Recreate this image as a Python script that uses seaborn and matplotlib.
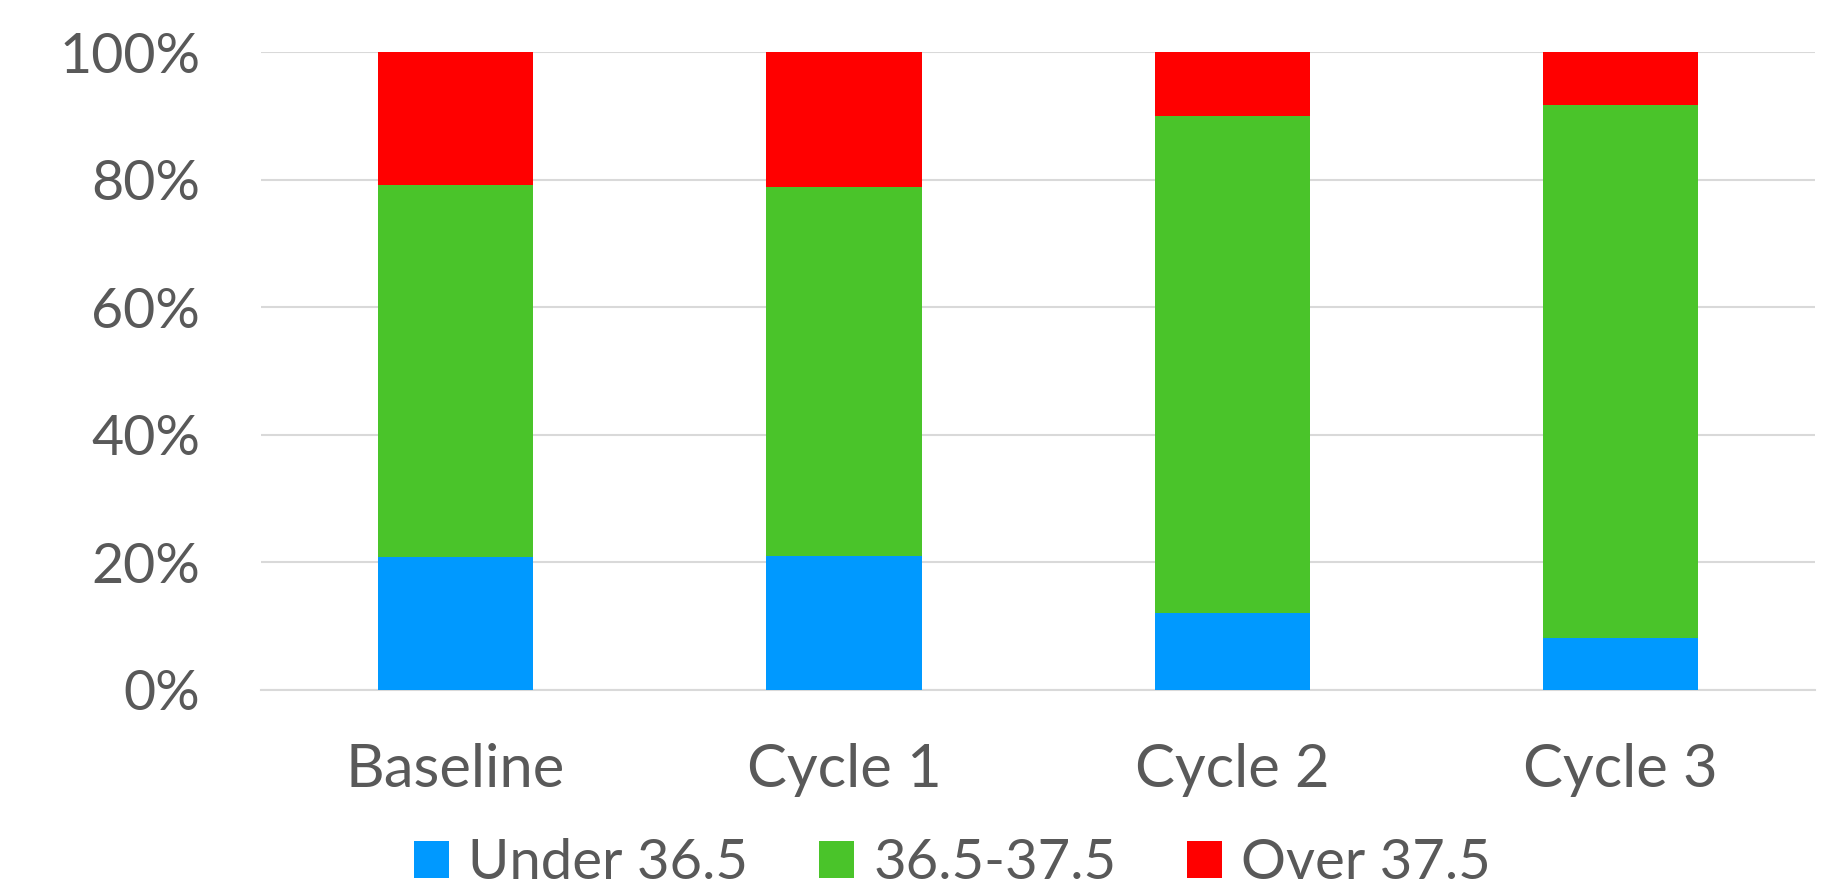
import numpy as np
import pandas as pd
import seaborn as sns
import matplotlib.pyplot as plt
from matplotlib.patches import Patch
from matplotlib.ticker import PercentFormatter

sns.set_style("white")
plt.rcParams['font.family'] = ['Lato', 'DejaVu Sans']

categories = ["Baseline", "Cycle 1", "Cycle 2", "Cycle 3"]
under = [20.8, 21.0, 12.0, 8.2]
normal = [58.4, 57.9, 78.0, 83.5]
over = [20.8, 21.1, 10.0, 8.3]

series_names = ["Under 36.5", "36.5-37.5", "Over 37.5"]
colors = ["#0099FF", "#4AC42A", "#FF0000"]
textColor = "#595959"

df = pd.DataFrame({"category": categories, "under": under, "normal": normal, "over": over})
df["cumNormal"] = df["under"] + df["normal"]
df["cumOver"] = df["cumNormal"] + df["over"]

fig = plt.figure(figsize=(18.21, 8.94), dpi=100)
ax = fig.add_axes([0.1435, 0.2282, 0.8532, 0.7133])

# stacked look: draw tallest cumulative first, then cover with lower ones
for col, c in zip(["cumOver", "cumNormal", "under"], colors[::-1]):
    sns.barplot(data=df, x="category", y=col, color=c, saturation=1, width=0.4,
                linewidth=0, ax=ax, zorder=3)

ax.set_ylim(0, 100)
ax.set_xlim(-0.5, 3.5)
ax.set_yticks(np.arange(0, 101, 20))
ax.yaxis.set_major_formatter(PercentFormatter(decimals=0))
ax.grid(axis="y", color="#D9D9D9", linewidth=1.5, zorder=0)
ax.set_axisbelow(True)
for s in ["top", "right", "left"]:
    ax.spines[s].set_visible(False)
ax.spines["bottom"].set_color("#D9D9D9")
ax.spines["bottom"].set_linewidth(1.5)
ax.set_xlabel("")
ax.set_ylabel("")
ax.tick_params(axis="y", length=0, pad=44, labelsize=40, labelcolor=textColor)
ax.tick_params(axis="x", length=0, pad=38, labelsize=43, labelcolor=textColor)

handles = [Patch(facecolor=c, edgecolor="none") for c in colors]
fig.legend(handles, series_names, loc="center", bbox_to_anchor=(0.523, 0.034), ncol=3,
           frameon=False, fontsize=40.5, labelcolor=textColor, handlelength=0.62, handleheight=0.62,
           handletextpad=0.35, columnspacing=1.25, borderaxespad=0, borderpad=0)

fig.savefig("out.png", dpi=100)
